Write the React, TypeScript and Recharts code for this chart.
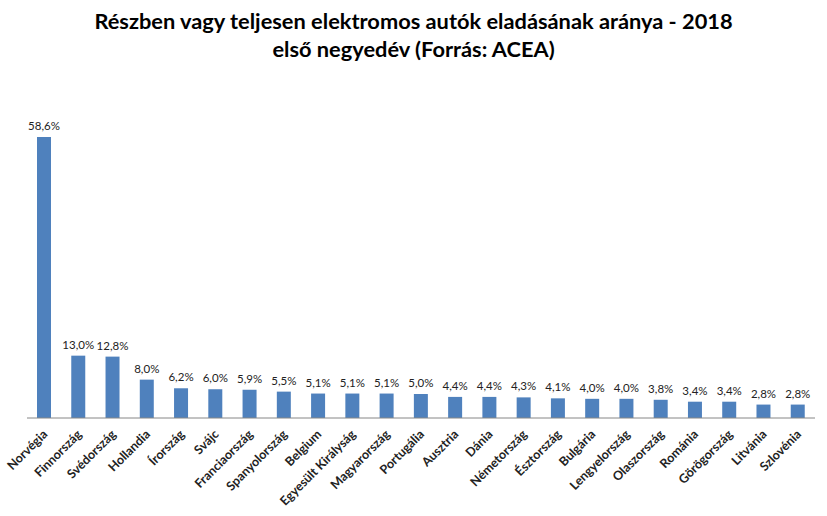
import React from "react";
import { BarChart, Bar, XAxis, YAxis, LabelList } from "recharts";

const countries = [
  "Norvégia", "Finnország", "Svédország", "Hollandia", "Írország", "Svájc",
  "Franciaország", "Spanyolország", "Belgium", "Egyesült Királyság", "Magyarország",
  "Portugália", "Ausztria", "Dánia", "Németország", "Észtország", "Bulgária",
  "Lengyelország", "Olaszország", "Románia", "Görögország", "Litvánia", "Szlovénia",
];
const shares = [
  58.6, 13.0, 12.8, 8.0, 6.2, 6.0, 5.9, 5.5, 5.1, 5.1, 5.1, 5.0, 4.4, 4.4, 4.3,
  4.1, 4.0, 4.0, 3.8, 3.4, 3.4, 2.8, 2.8,
];

const data = countries.map((c, i) => ({ name: c, value: shares[i] }));

const FONT = "Lato, 'Open Sans', sans-serif";

const Tick = (props: any) => {
  const { x, y, payload } = props;
  return (
    <g transform={`translate(${x + 4},${y + 9})`}>
      <text
        transform="rotate(-45)"
        textAnchor="end"
        fontSize={12.5}
        fontWeight={700}
        fontFamily={FONT}
        fill="#222"
      >
        {payload.value}
      </text>
    </g>
  );
};

export default function App() {
  return (
    <div style={{ position: "absolute", left: 0, top: 0, width: 827, height: 516, background: "#fff" }}>
      <div
        style={{
          position: "absolute",
          left: 0,
          top: 7,
          width: 827,
          textAlign: "center",
          fontFamily: FONT,
          fontWeight: 700,
          fontSize: 21.8,
          lineHeight: "28px",
          color: "#000",
        }}
      >
        Részben vagy teljesen elektromos autók eladásának aránya - 2018
        <br />
        első negyedév (Forrás: ACEA)
      </div>
      <BarChart
        width={827}
        height={516}
        data={data}
        margin={{ top: 137, right: 12, left: 27, bottom: 0 }}
        style={{ position: "absolute", left: 0, top: 0 }}
      >
        <XAxis
          dataKey="name"
          interval={0}
          tickLine={false}
          axisLine={{ stroke: "#868686" }}
          height={98}
          tick={<Tick />}
        />
        <YAxis hide domain={[0, 58.6]} />
        <Bar dataKey="value" fill="#4F81BD" barSize={14} isAnimationActive={false}>
          <LabelList
            dataKey="value"
            position="top"
            offset={7}
            formatter={(v: any) => `${Number(v).toFixed(1).replace(".", ",")}%`}
            style={{ fontSize: 11.5, fontFamily: FONT, fill: "#222" }}
          />
        </Bar>
      </BarChart>
    </div>
  );
}
